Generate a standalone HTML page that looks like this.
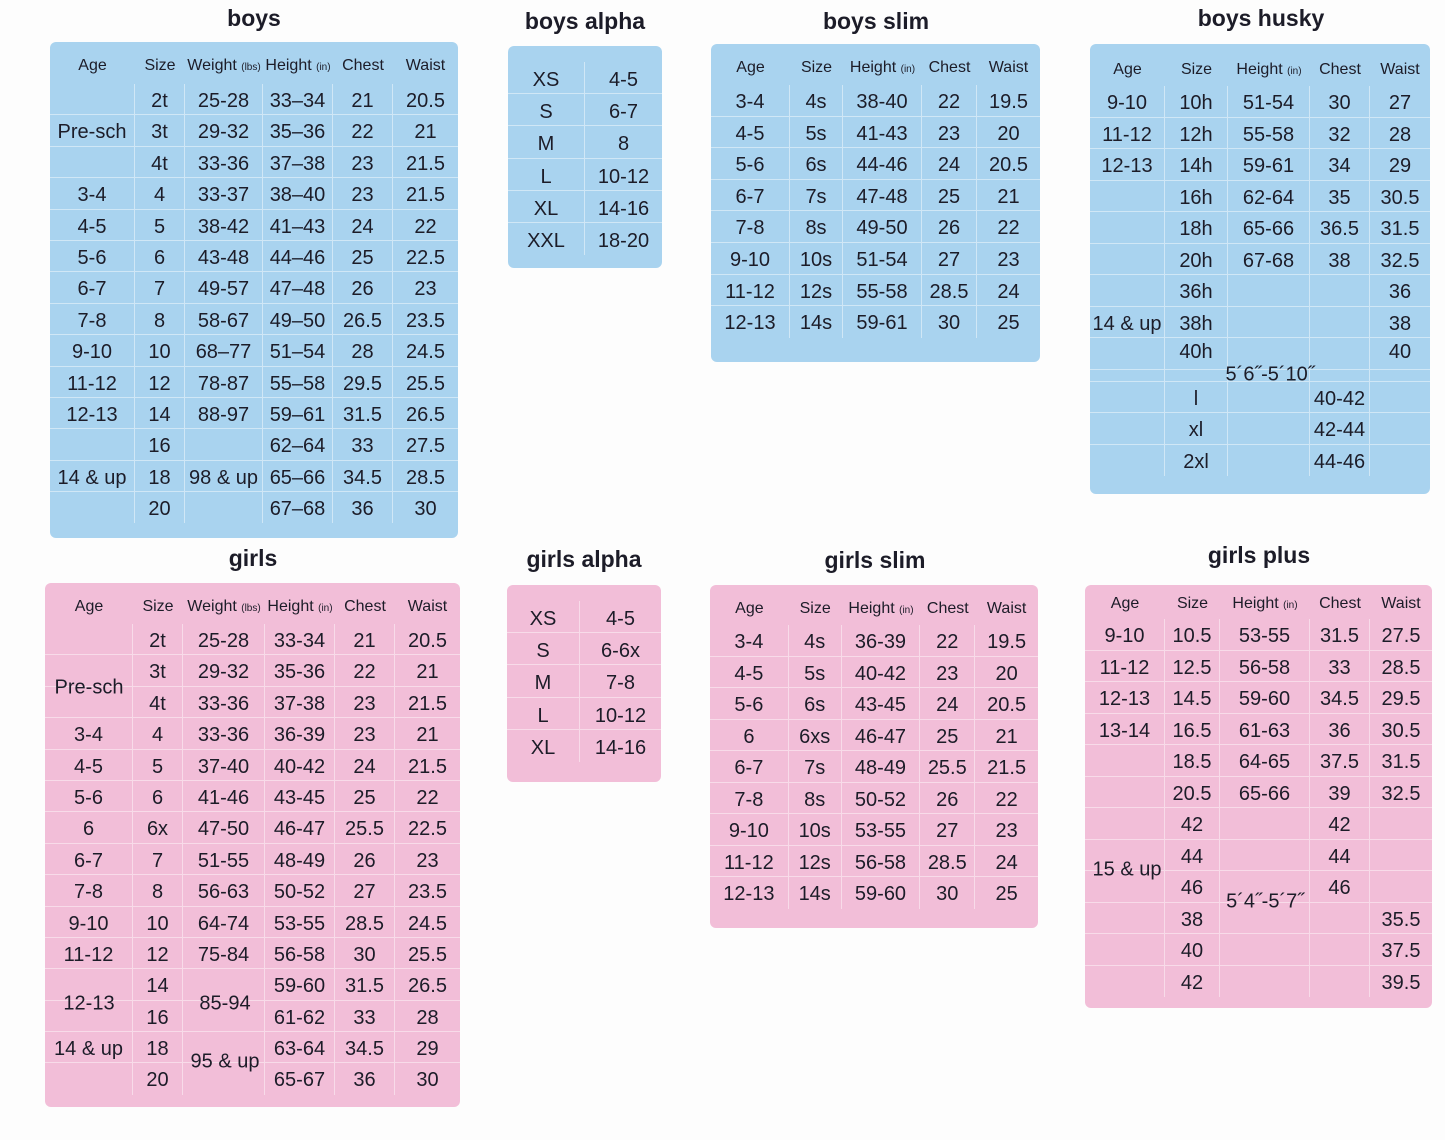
<!DOCTYPE html>
<html><head><meta charset="utf-8"><style>
body{margin:0;width:1445px;height:1140px;background:#fdfdfd;position:relative;overflow:hidden;font-family:"Liberation Sans",sans-serif;color:#1c1c28}
.t{position:absolute;font-weight:bold;font-size:23px;transform:translateX(-50%);white-space:nowrap;top:5px}
.p{position:absolute;border-radius:6px;overflow:hidden}
.b{background:#a9d3ef}.g{background:#f2bed8}
.r{display:flex;border-bottom:1px solid rgba(255,255,255,.45);box-sizing:border-box}
.r:last-child{border-bottom:none}
.c{text-align:center;font-size:20px;white-space:nowrap;border-right:1px solid rgba(255,255,255,.45);box-sizing:border-box;padding-top:2px}
.c:last-child{border-right:none}
.h .c{font-size:16px;border-right:none;padding-top:3px}
.h small{font-size:10px}
.h{border-bottom:none}
.a{position:absolute;font-size:20px;transform:translate(-50%,-50%);white-space:nowrap;margin-top:2px}
.w1 .c:nth-child(1){width:85px}.w1 .c:nth-child(2){width:50px}.w1 .c:nth-child(3){width:78px}.w1 .c:nth-child(4){width:70px}.w1 .c:nth-child(5){width:60px}.w1 .c:nth-child(6){width:65px}
.w2 .c:nth-child(1){width:88px}.w2 .c:nth-child(2){width:50px}.w2 .c:nth-child(3){width:82px}.w2 .c:nth-child(4){width:70px}.w2 .c:nth-child(5){width:60px}.w2 .c:nth-child(6){width:65px}
.al .c:nth-child(1){width:77px}.al .c:nth-child(2){width:77px}
.sl .c:nth-child(1){width:79px}.sl .c:nth-child(2){width:53px}.sl .c:nth-child(3){width:79px}.sl .c:nth-child(4){width:55px}.sl .c:nth-child(5){width:63px}
.hu .c:nth-child(1){width:75px}.hu .c:nth-child(2){width:63px}.hu .c:nth-child(3){width:82px}.hu .c:nth-child(4){width:60px}.hu .c:nth-child(5){width:60px}
.pl .c:nth-child(1){width:80px}.pl .c:nth-child(2){width:55px}.pl .c:nth-child(3){width:90px}.pl .c:nth-child(4){width:60px}.pl .c:nth-child(5){width:62px}
</style></head><body>

<div class="t" style="left:254px">boys</div>
<div class="t" style="left:585px;top:8px">boys alpha</div>
<div class="t" style="left:876px;top:8px">boys slim</div>
<div class="t" style="left:1261px">boys husky</div>
<div class="t" style="left:253px;top:545px">girls</div>
<div class="t" style="left:584px;top:546px">girls alpha</div>
<div class="t" style="left:875px;top:547px">girls slim</div>
<div class="t" style="left:1259px;top:542px">girls plus</div>

<!-- boys -->
<div class="p b w1" style="left:50px;top:42px;width:408px;height:496px">
<div class="r h" style="height:42px;line-height:42px"><div class="c">Age</div><div class="c">Size</div><div class="c">Weight <small>(lbs)</small></div><div class="c">Height <small>(in)</small></div><div class="c">Chest</div><div class="c">Waist</div></div>
<div style="line-height:31.4px">
<div class="r" style="height:31.4px"><div class="c"></div><div class="c">2t</div><div class="c">25-28</div><div class="c">33–34</div><div class="c">21</div><div class="c">20.5</div></div>
<div class="r" style="height:31.4px"><div class="c">Pre-sch</div><div class="c">3t</div><div class="c">29-32</div><div class="c">35–36</div><div class="c">22</div><div class="c">21</div></div>
<div class="r" style="height:31.4px"><div class="c"></div><div class="c">4t</div><div class="c">33-36</div><div class="c">37–38</div><div class="c">23</div><div class="c">21.5</div></div>
<div class="r" style="height:31.4px"><div class="c">3-4</div><div class="c">4</div><div class="c">33-37</div><div class="c">38–40</div><div class="c">23</div><div class="c">21.5</div></div>
<div class="r" style="height:31.4px"><div class="c">4-5</div><div class="c">5</div><div class="c">38-42</div><div class="c">41–43</div><div class="c">24</div><div class="c">22</div></div>
<div class="r" style="height:31.4px"><div class="c">5-6</div><div class="c">6</div><div class="c">43-48</div><div class="c">44–46</div><div class="c">25</div><div class="c">22.5</div></div>
<div class="r" style="height:31.4px"><div class="c">6-7</div><div class="c">7</div><div class="c">49-57</div><div class="c">47–48</div><div class="c">26</div><div class="c">23</div></div>
<div class="r" style="height:31.4px"><div class="c">7-8</div><div class="c">8</div><div class="c">58-67</div><div class="c">49–50</div><div class="c">26.5</div><div class="c">23.5</div></div>
<div class="r" style="height:31.4px"><div class="c">9-10</div><div class="c">10</div><div class="c">68–77</div><div class="c">51–54</div><div class="c">28</div><div class="c">24.5</div></div>
<div class="r" style="height:31.4px"><div class="c">11-12</div><div class="c">12</div><div class="c">78-87</div><div class="c">55–58</div><div class="c">29.5</div><div class="c">25.5</div></div>
<div class="r" style="height:31.4px"><div class="c">12-13</div><div class="c">14</div><div class="c">88-97</div><div class="c">59–61</div><div class="c">31.5</div><div class="c">26.5</div></div>
<div class="r" style="height:31.4px"><div class="c"></div><div class="c">16</div><div class="c"></div><div class="c">62–64</div><div class="c">33</div><div class="c">27.5</div></div>
<div class="r" style="height:31.4px"><div class="c">14 &amp; up</div><div class="c">18</div><div class="c">98 &amp; up</div><div class="c">65–66</div><div class="c">34.5</div><div class="c">28.5</div></div>
<div class="r" style="height:31.4px"><div class="c"></div><div class="c">20</div><div class="c"></div><div class="c">67–68</div><div class="c">36</div><div class="c">30</div></div>
</div></div>

<!-- boys alpha -->
<div class="p b al" style="left:508px;top:46px;width:154px;height:222px;padding-top:16px;box-sizing:border-box;line-height:32.2px">
<div class="r" style="height:32.2px"><div class="c">XS</div><div class="c">4-5</div></div>
<div class="r" style="height:32.2px"><div class="c">S</div><div class="c">6-7</div></div>
<div class="r" style="height:32.2px"><div class="c">M</div><div class="c">8</div></div>
<div class="r" style="height:32.2px"><div class="c">L</div><div class="c">10-12</div></div>
<div class="r" style="height:32.2px"><div class="c">XL</div><div class="c">14-16</div></div>
<div class="r" style="height:32.2px"><div class="c">XXL</div><div class="c">18-20</div></div>
</div>

<!-- boys slim -->
<div class="p b sl" style="left:711px;top:44px;width:329px;height:318px;line-height:31.6px">
<div class="r h" style="height:41px;line-height:41px"><div class="c">Age</div><div class="c">Size</div><div class="c">Height <small>(in)</small></div><div class="c">Chest</div><div class="c">Waist</div></div>
<div class="r" style="height:31.6px"><div class="c">3-4</div><div class="c">4s</div><div class="c">38-40</div><div class="c">22</div><div class="c">19.5</div></div>
<div class="r" style="height:31.6px"><div class="c">4-5</div><div class="c">5s</div><div class="c">41-43</div><div class="c">23</div><div class="c">20</div></div>
<div class="r" style="height:31.6px"><div class="c">5-6</div><div class="c">6s</div><div class="c">44-46</div><div class="c">24</div><div class="c">20.5</div></div>
<div class="r" style="height:31.6px"><div class="c">6-7</div><div class="c">7s</div><div class="c">47-48</div><div class="c">25</div><div class="c">21</div></div>
<div class="r" style="height:31.6px"><div class="c">7-8</div><div class="c">8s</div><div class="c">49-50</div><div class="c">26</div><div class="c">22</div></div>
<div class="r" style="height:31.6px"><div class="c">9-10</div><div class="c">10s</div><div class="c">51-54</div><div class="c">27</div><div class="c">23</div></div>
<div class="r" style="height:31.6px"><div class="c">11-12</div><div class="c">12s</div><div class="c">55-58</div><div class="c">28.5</div><div class="c">24</div></div>
<div class="r" style="height:31.6px"><div class="c">12-13</div><div class="c">14s</div><div class="c">59-61</div><div class="c">30</div><div class="c">25</div></div>
</div>

<!-- boys husky -->
<div class="p b hu" style="left:1090px;top:44px;width:340px;height:450px;line-height:31.5px">
<div class="r h" style="height:42px;line-height:46px"><div class="c">Age</div><div class="c">Size</div><div class="c">Height <small>(in)</small></div><div class="c">Chest</div><div class="c">Waist</div></div>
<div class="r" style="height:31.5px"><div class="c">9-10</div><div class="c">10h</div><div class="c">51-54</div><div class="c">30</div><div class="c">27</div></div>
<div class="r" style="height:31.5px"><div class="c">11-12</div><div class="c">12h</div><div class="c">55-58</div><div class="c">32</div><div class="c">28</div></div>
<div class="r" style="height:31.5px"><div class="c">12-13</div><div class="c">14h</div><div class="c">59-61</div><div class="c">34</div><div class="c">29</div></div>
<div class="r" style="height:31.5px"><div class="c"></div><div class="c">16h</div><div class="c">62-64</div><div class="c">35</div><div class="c">30.5</div></div>
<div class="r" style="height:31.5px"><div class="c"></div><div class="c">18h</div><div class="c">65-66</div><div class="c">36.5</div><div class="c">31.5</div></div>
<div class="r" style="height:31.5px"><div class="c"></div><div class="c">20h</div><div class="c">67-68</div><div class="c">38</div><div class="c">32.5</div></div>
<div class="r" style="height:31.5px"><div class="c"></div><div class="c">36h</div><div class="c"></div><div class="c"></div><div class="c">36</div></div>
<div class="r" style="height:31.5px"><div class="c">14 &amp; up</div><div class="c">38h</div><div class="c"></div><div class="c"></div><div class="c">38</div></div>
<div class="r" style="height:31.5px;line-height:24px"><div class="c"></div><div class="c">40h</div><div class="c"></div><div class="c"></div><div class="c">40</div></div>
<div class="r" style="height:12px"><div class="c"></div><div class="c"></div><div class="c"></div><div class="c"></div><div class="c"></div></div>
<div class="r" style="height:31.5px"><div class="c"></div><div class="c">l</div><div class="c"></div><div class="c">40-42</div><div class="c"></div></div>
<div class="r" style="height:31.5px"><div class="c"></div><div class="c">xl</div><div class="c"></div><div class="c">42-44</div><div class="c"></div></div>
<div class="r" style="height:31.5px"><div class="c"></div><div class="c">2xl</div><div class="c"></div><div class="c">44-46</div><div class="c"></div></div>
</div>
<div class="a" style="left:1270px;top:373px">5´6˝-5´10˝</div>

<!-- girls -->
<div class="p g w2" style="left:45px;top:583px;width:415px;height:524px;line-height:31.4px">
<div class="r h" style="height:41px;line-height:42px"><div class="c">Age</div><div class="c">Size</div><div class="c">Weight <small>(lbs)</small></div><div class="c">Height <small>(in)</small></div><div class="c">Chest</div><div class="c">Waist</div></div>
<div class="r" style="height:31.4px"><div class="c"></div><div class="c">2t</div><div class="c">25-28</div><div class="c">33-34</div><div class="c">21</div><div class="c">20.5</div></div>
<div class="r" style="height:31.4px"><div class="c"></div><div class="c">3t</div><div class="c">29-32</div><div class="c">35-36</div><div class="c">22</div><div class="c">21</div></div>
<div class="r" style="height:31.4px"><div class="c"></div><div class="c">4t</div><div class="c">33-36</div><div class="c">37-38</div><div class="c">23</div><div class="c">21.5</div></div>
<div class="r" style="height:31.4px"><div class="c">3-4</div><div class="c">4</div><div class="c">33-36</div><div class="c">36-39</div><div class="c">23</div><div class="c">21</div></div>
<div class="r" style="height:31.4px"><div class="c">4-5</div><div class="c">5</div><div class="c">37-40</div><div class="c">40-42</div><div class="c">24</div><div class="c">21.5</div></div>
<div class="r" style="height:31.4px"><div class="c">5-6</div><div class="c">6</div><div class="c">41-46</div><div class="c">43-45</div><div class="c">25</div><div class="c">22</div></div>
<div class="r" style="height:31.4px"><div class="c">6</div><div class="c">6x</div><div class="c">47-50</div><div class="c">46-47</div><div class="c">25.5</div><div class="c">22.5</div></div>
<div class="r" style="height:31.4px"><div class="c">6-7</div><div class="c">7</div><div class="c">51-55</div><div class="c">48-49</div><div class="c">26</div><div class="c">23</div></div>
<div class="r" style="height:31.4px"><div class="c">7-8</div><div class="c">8</div><div class="c">56-63</div><div class="c">50-52</div><div class="c">27</div><div class="c">23.5</div></div>
<div class="r" style="height:31.4px"><div class="c">9-10</div><div class="c">10</div><div class="c">64-74</div><div class="c">53-55</div><div class="c">28.5</div><div class="c">24.5</div></div>
<div class="r" style="height:31.4px"><div class="c">11-12</div><div class="c">12</div><div class="c">75-84</div><div class="c">56-58</div><div class="c">30</div><div class="c">25.5</div></div>
<div class="r" style="height:31.4px"><div class="c"></div><div class="c">14</div><div class="c"></div><div class="c">59-60</div><div class="c">31.5</div><div class="c">26.5</div></div>
<div class="r" style="height:31.4px"><div class="c"></div><div class="c">16</div><div class="c"></div><div class="c">61-62</div><div class="c">33</div><div class="c">28</div></div>
<div class="r" style="height:31.4px"><div class="c">14 &amp; up</div><div class="c">18</div><div class="c"></div><div class="c">63-64</div><div class="c">34.5</div><div class="c">29</div></div>
<div class="r" style="height:31.4px"><div class="c"></div><div class="c">20</div><div class="c"></div><div class="c">65-67</div><div class="c">36</div><div class="c">30</div></div>
</div>
<div class="a" style="left:89px;top:686px">Pre-sch</div>
<div class="a" style="left:89px;top:1002px">12-13</div>
<div class="a" style="left:225px;top:1002px">85-94</div>
<div class="a" style="left:225px;top:1060px">95 &amp; up</div>

<!-- girls alpha -->
<div class="p g al" style="left:507px;top:585px;width:154px;height:197px;padding-top:16px;box-sizing:border-box;line-height:32.2px">
<div class="r" style="height:32.2px"><div class="c" style="width:73px">XS</div><div class="c" style="width:81px">4-5</div></div>
<div class="r" style="height:32.2px"><div class="c" style="width:73px">S</div><div class="c" style="width:81px">6-6x</div></div>
<div class="r" style="height:32.2px"><div class="c" style="width:73px">M</div><div class="c" style="width:81px">7-8</div></div>
<div class="r" style="height:32.2px"><div class="c" style="width:73px">L</div><div class="c" style="width:81px">10-12</div></div>
<div class="r" style="height:32.2px"><div class="c" style="width:73px">XL</div><div class="c" style="width:81px">14-16</div></div>
</div>

<!-- girls slim -->
<div class="p g sl" style="left:710px;top:585px;width:328px;height:343px;line-height:31.5px">
<div class="r h" style="height:40px;line-height:42px"><div class="c">Age</div><div class="c">Size</div><div class="c">Height <small>(in)</small></div><div class="c">Chest</div><div class="c">Waist</div></div>
<div class="r" style="height:31.5px"><div class="c">3-4</div><div class="c">4s</div><div class="c">36-39</div><div class="c">22</div><div class="c">19.5</div></div>
<div class="r" style="height:31.5px"><div class="c">4-5</div><div class="c">5s</div><div class="c">40-42</div><div class="c">23</div><div class="c">20</div></div>
<div class="r" style="height:31.5px"><div class="c">5-6</div><div class="c">6s</div><div class="c">43-45</div><div class="c">24</div><div class="c">20.5</div></div>
<div class="r" style="height:31.5px"><div class="c">6</div><div class="c">6xs</div><div class="c">46-47</div><div class="c">25</div><div class="c">21</div></div>
<div class="r" style="height:31.5px"><div class="c">6-7</div><div class="c">7s</div><div class="c">48-49</div><div class="c">25.5</div><div class="c">21.5</div></div>
<div class="r" style="height:31.5px"><div class="c">7-8</div><div class="c">8s</div><div class="c">50-52</div><div class="c">26</div><div class="c">22</div></div>
<div class="r" style="height:31.5px"><div class="c">9-10</div><div class="c">10s</div><div class="c">53-55</div><div class="c">27</div><div class="c">23</div></div>
<div class="r" style="height:31.5px"><div class="c">11-12</div><div class="c">12s</div><div class="c">56-58</div><div class="c">28.5</div><div class="c">24</div></div>
<div class="r" style="height:31.5px"><div class="c">12-13</div><div class="c">14s</div><div class="c">59-60</div><div class="c">30</div><div class="c">25</div></div>
</div>

<!-- girls plus -->
<div class="p g pl" style="left:1085px;top:585px;width:347px;height:423px;line-height:31.5px">
<div class="r h" style="height:34px;line-height:32px"><div class="c">Age</div><div class="c">Size</div><div class="c">Height <small>(in)</small></div><div class="c">Chest</div><div class="c">Waist</div></div>
<div class="r" style="height:31.5px"><div class="c">9-10</div><div class="c">10.5</div><div class="c">53-55</div><div class="c">31.5</div><div class="c">27.5</div></div>
<div class="r" style="height:31.5px"><div class="c">11-12</div><div class="c">12.5</div><div class="c">56-58</div><div class="c">33</div><div class="c">28.5</div></div>
<div class="r" style="height:31.5px"><div class="c">12-13</div><div class="c">14.5</div><div class="c">59-60</div><div class="c">34.5</div><div class="c">29.5</div></div>
<div class="r" style="height:31.5px"><div class="c">13-14</div><div class="c">16.5</div><div class="c">61-63</div><div class="c">36</div><div class="c">30.5</div></div>
<div class="r" style="height:31.5px"><div class="c"></div><div class="c">18.5</div><div class="c">64-65</div><div class="c">37.5</div><div class="c">31.5</div></div>
<div class="r" style="height:31.5px"><div class="c"></div><div class="c">20.5</div><div class="c">65-66</div><div class="c">39</div><div class="c">32.5</div></div>
<div class="r" style="height:31.5px"><div class="c"></div><div class="c">42</div><div class="c"></div><div class="c">42</div><div class="c"></div></div>
<div class="r" style="height:31.5px"><div class="c"></div><div class="c">44</div><div class="c"></div><div class="c">44</div><div class="c"></div></div>
<div class="r" style="height:31.5px"><div class="c"></div><div class="c">46</div><div class="c"></div><div class="c">46</div><div class="c"></div></div>
<div class="r" style="height:31.5px"><div class="c"></div><div class="c">38</div><div class="c"></div><div class="c"></div><div class="c">35.5</div></div>
<div class="r" style="height:31.5px"><div class="c"></div><div class="c">40</div><div class="c"></div><div class="c"></div><div class="c">37.5</div></div>
<div class="r" style="height:31.5px"><div class="c"></div><div class="c">42</div><div class="c"></div><div class="c"></div><div class="c">39.5</div></div>
</div>
<div class="a" style="left:1127px;top:868px">15 &amp; up</div>
<div class="a" style="left:1265px;top:900px">5´4˝-5´7˝</div>

</body></html>
